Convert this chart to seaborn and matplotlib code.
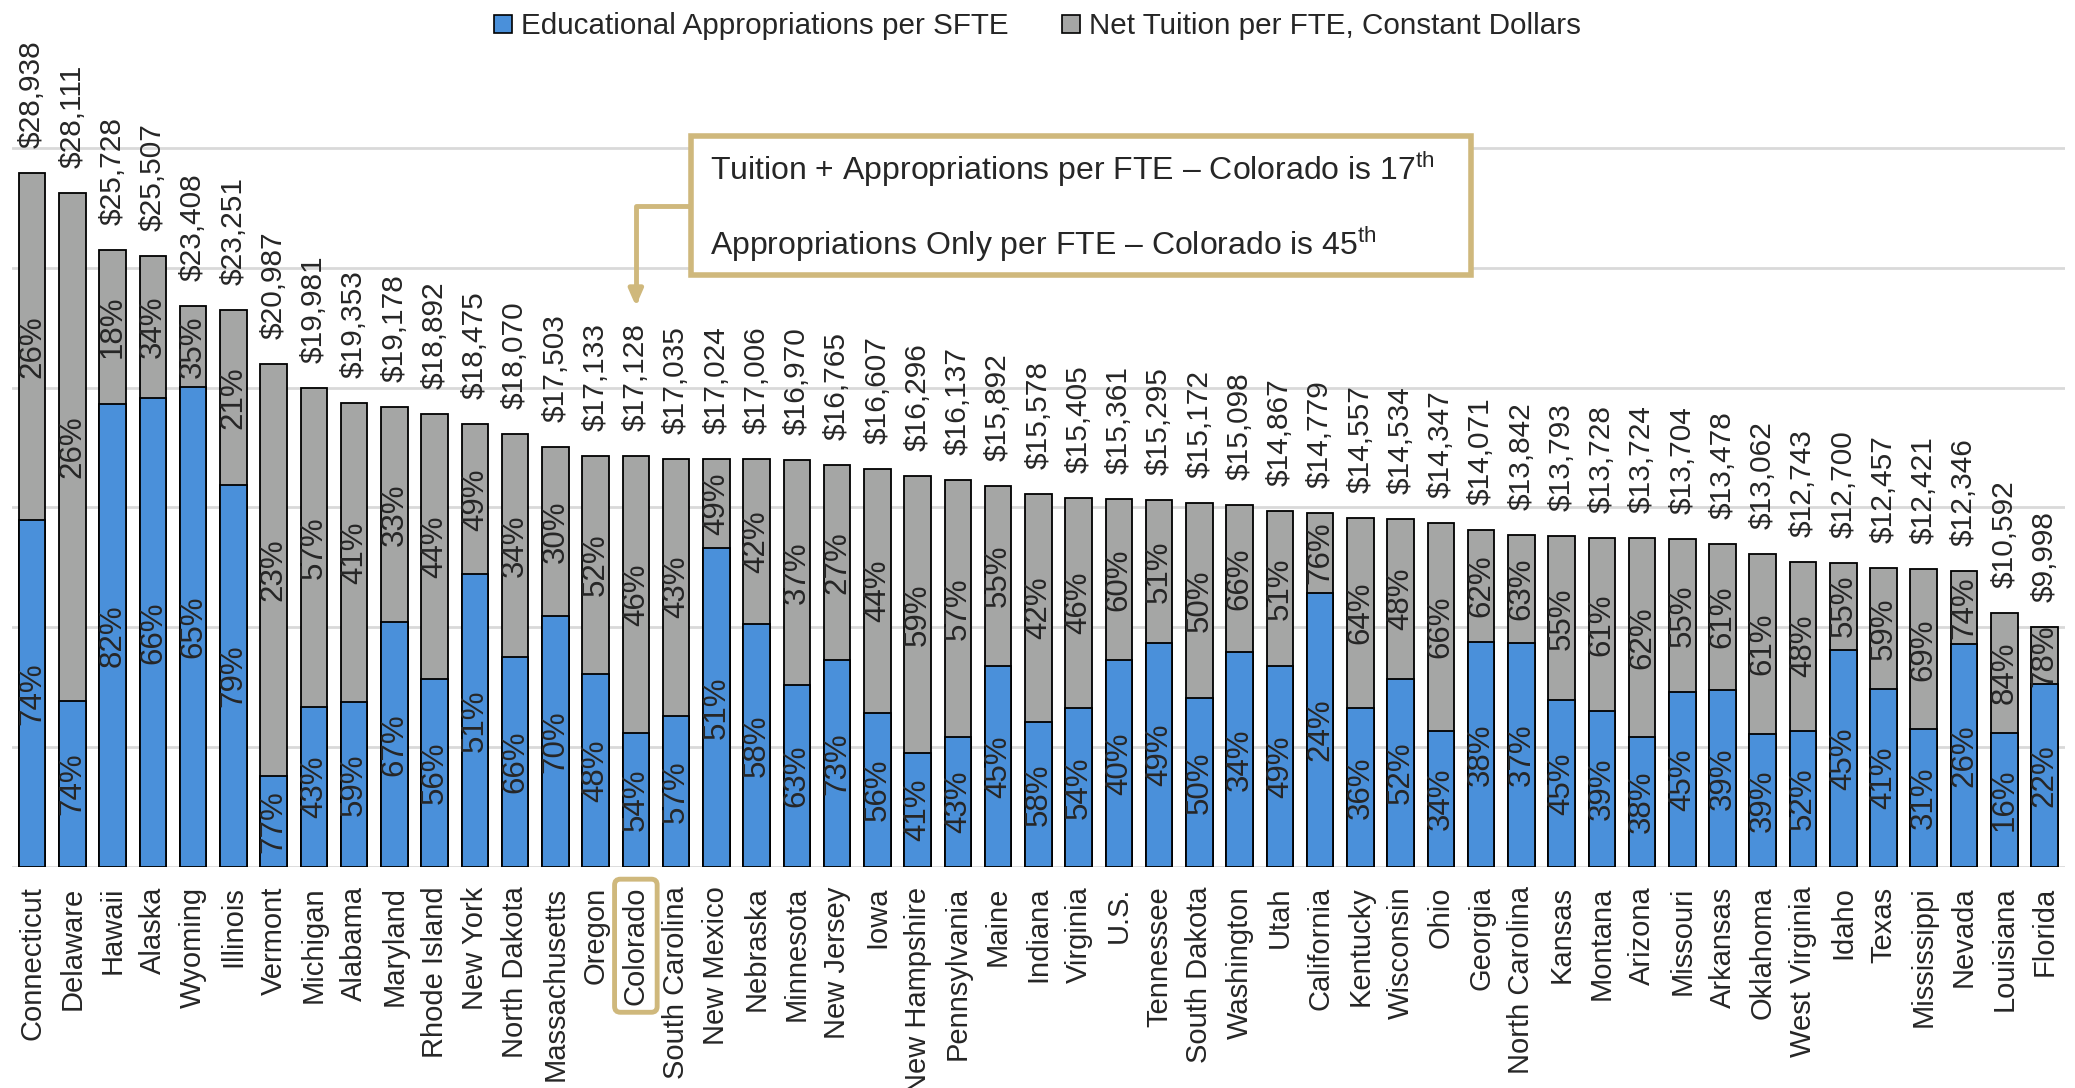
import matplotlib
matplotlib.use("Agg")
import matplotlib.pyplot as plt
from matplotlib.patches import Patch, Rectangle
import pandas as pd
import seaborn as sns

states = [
    "Connecticut", "Delaware", "Hawaii", "Alaska", "Wyoming", "Illinois", "Vermont",
    "Michigan", "Alabama", "Maryland", "Rhode Island", "New York", "North Dakota",
    "Massachusetts", "Oregon", "Colorado", "South Carolina", "New Mexico", "Nebraska",
    "Minnesota", "New Jersey", "Iowa", "New Hampshire", "Pennsylvania", "Maine",
    "Indiana", "Virginia", "U.S.", "Tennessee", "South Dakota", "Washington", "Utah",
    "California", "Kentucky", "Wisconsin", "Ohio", "Georgia", "North Carolina",
    "Kansas", "Montana", "Arizona", "Missouri", "Arkansas", "Oklahoma",
    "West Virginia", "Idaho", "Texas", "Mississippi", "Nevada", "Louisiana", "Florida",
]

# total (tuition + appropriations) per FTE, from the value labels
totals = [
    28938, 28111, 25728, 25507, 23408, 23251, 20987, 19981, 19353, 19178, 18892,
    18475, 18070, 17503, 17133, 17128, 17035, 17024, 17006, 16970, 16765, 16607,
    16296, 16137, 15892, 15578, 15405, 15361, 15295, 15172, 15098, 14867, 14779,
    14557, 14534, 14347, 14071, 13842, 13793, 13728, 13724, 13704, 13478, 13062,
    12743, 12700, 12457, 12421, 12346, 10592, 9998,
]

# educational appropriations per SFTE (blue segment height)
approp = [
    14460, 6930, 19330, 19570, 20010, 15940, 3810, 6690, 6890, 10240, 7850,
    12210, 8750, 10460, 8060, 5600, 6320, 13310, 10150, 7600, 8640, 6430,
    4760, 5430, 8380, 6060, 6640, 8640, 9360, 7060, 8970, 8380, 11420,
    6650, 7860, 5670, 9390, 9350, 6960, 6500, 5430, 7290, 7390, 5540,
    5680, 9070, 7430, 5750, 9320, 5580, 7630,
]

# percentage labels as printed on the chart
approp_pct = [
    "74%", "74%", "82%", "66%", "65%", "79%", "77%", "43%", "59%", "67%", "56%",
    "51%", "66%", "70%", "48%", "54%", "57%", "51%", "58%", "63%", "73%", "56%",
    "41%", "43%", "45%", "58%", "54%", "40%", "49%", "50%", "34%", "49%", "24%",
    "36%", "52%", "34%", "38%", "37%", "45%", "39%", "38%", "45%", "39%", "39%",
    "52%", "45%", "41%", "31%", "26%", "16%", "22%",
]
tuition_pct = [
    "26%", "26%", "18%", "34%", "35%", "21%", "23%", "57%", "41%", "33%", "44%",
    "49%", "34%", "30%", "52%", "46%", "43%", "49%", "42%", "37%", "27%", "44%",
    "59%", "57%", "55%", "42%", "46%", "60%", "51%", "50%", "66%", "51%", "76%",
    "64%", "48%", "66%", "62%", "63%", "55%", "61%", "62%", "55%", "61%", "61%",
    "48%", "55%", "59%", "69%", "74%", "84%", "78%",
]

BLUE = "#4A90DA"
GRAY = "#A5A6A5"
GOLD = "#CFB87C"
GRID = "#D9D9D9"

sns.set_theme(style="white")
plt.rcParams["font.family"] = ["Liberation Sans", "DejaVu Sans"]
plt.rcParams["mathtext.fontset"] = "custom"
plt.rcParams["mathtext.rm"] = "Liberation Sans"

df = pd.DataFrame({"state": states, "total": totals, "approp": approp})

fig = plt.figure(figsize=(20.75, 10.88), dpi=100)
ax = fig.add_axes([0.0058, 0.2031, 0.9892, 0.6618])

sns.barplot(data=df, x="state", y="total", color=GRAY, saturation=1, width=0.66,
            edgecolor="black", linewidth=1.3, ax=ax)
sns.barplot(data=df, x="state", y="approp", color=BLUE, saturation=1, width=0.66,
            edgecolor="black", linewidth=1.3, ax=ax)

ax.set_xlim(-0.5, len(states) - 0.5)
ax.set_ylim(0, 30040)
ax.set_yticks(range(0, 30001, 5000))
ax.set_yticklabels([])
ax.yaxis.grid(True, color=GRID, linewidth=2)
ax.set_axisbelow(True)
for s in ax.spines.values():
    s.set_visible(False)
ax.set_xlabel("")
ax.set_ylabel("")
ax.set_xticks(range(len(states)))
ax.set_xticklabels(states, rotation=90, fontsize=21)
ax.tick_params(axis="x", length=0, pad=14)
ax.tick_params(axis="y", length=0)

for lbl in ax.get_xticklabels():
    if lbl.get_text() == "Colorado":
        lbl.set_bbox(dict(boxstyle="round,pad=0.25,rounding_size=0.2",
                          fc="none", ec=GOLD, lw=3.5))

for i, (tot, ap) in enumerate(zip(totals, approp)):
    ax.annotate(f"${tot:,}", (i, tot), xytext=(0, 18), textcoords="offset points",
                rotation=90, ha="center", va="bottom", fontsize=21.5, annotation_clip=False)
    ax.text(i, ap / 2, approp_pct[i], rotation=90, ha="center", va="center", fontsize=22.5)
    ax.text(i, ap + (tot - ap) / 2, tuition_pct[i], rotation=90, ha="center",
            va="center", fontsize=22.5)

# callout box
ax.add_patch(Rectangle((16.37, 24700), 19.38, 5800, fc="white", ec=GOLD, lw=4,
                       zorder=5, clip_on=False))
ax.text(16.85, 29130, "Tuition + Appropriations per FTE \u2013 Colorado is 17$^{\\mathrm{th}}$",
        fontsize=23, va="center", ha="left", zorder=6)
ax.text(16.85, 26000, "Appropriations Only per FTE \u2013 Colorado is 45$^{\\mathrm{th}}$",
        fontsize=23, va="center", ha="left", zorder=6)
ax.annotate("", xy=(15, 23400), xytext=(16.37, 27580),
            arrowprops=dict(arrowstyle="-|>,head_length=0.8,head_width=0.35",
                            connectionstyle="angle,angleA=180,angleB=90,rad=0",
                            color=GOLD, lw=3.5, shrinkA=0, shrinkB=0), zorder=4)

handles = [Patch(fc=BLUE, ec="black", lw=1.2, label="Educational Appropriations per SFTE"),
           Patch(fc=GRAY, ec="black", lw=1.2, label="Net Tuition per FTE, Constant Dollars")]
fig.legend(handles=handles, loc="upper center", bbox_to_anchor=(0.5, 1.013), ncol=2,
           frameon=False, fontsize=21.3, handlelength=0.6, handleheight=0.6,
           handletextpad=0.3, columnspacing=1.8)

fig.savefig("out.png", dpi=100)
